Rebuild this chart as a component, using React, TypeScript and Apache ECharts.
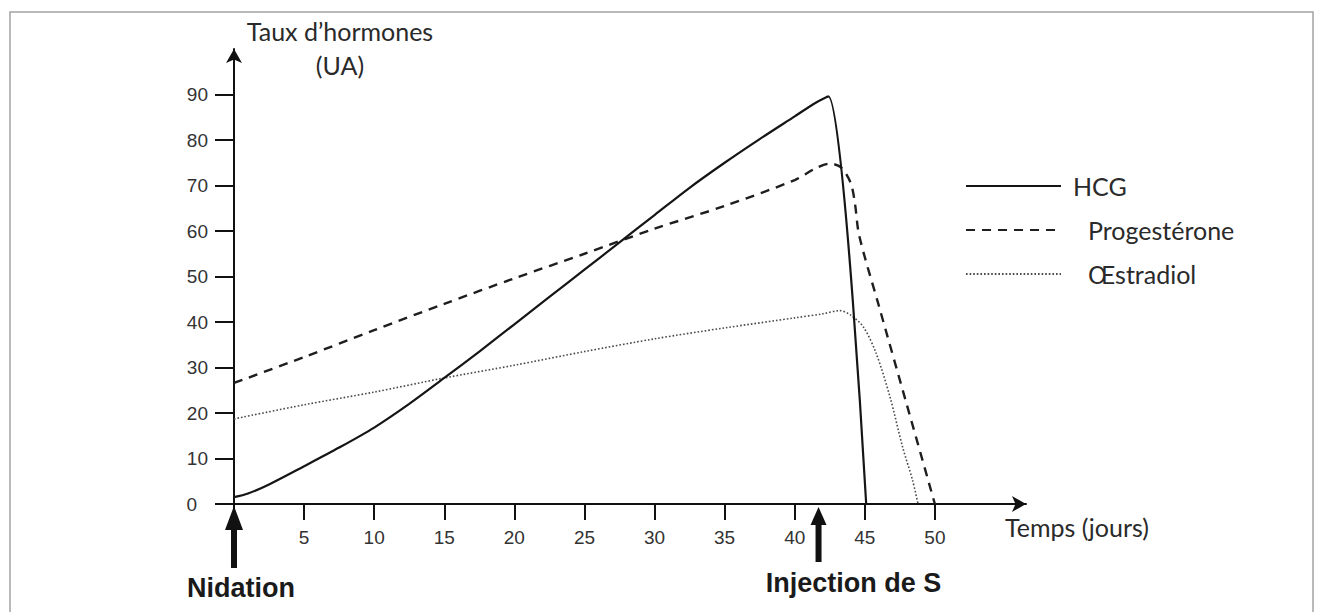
import React, { useEffect, useRef } from 'react';
import * as echarts from 'echarts';

// ---- Data ----
const hcgDays = [0, 1, 2.5, 5, 7.5, 10, 12.5, 15, 17.5, 20, 22.5, 25, 27.5, 30, 32.5, 35, 37.5, 40, 41.5, 42.4, 45.1];
const hcgValues = [1.5, 2.3, 4.3, 8.3, 12.4, 16.8, 22, 27.7, 33.5, 39.5, 45.5, 51.5, 57.5, 63.5, 69.5, 75, 80.2, 85.2, 88.2, 89.6, 0];

const progDays = [0, 5, 10, 15, 20, 25, 30, 35, 40, 41.5, 42.5, 43.3, 44, 44.3, 44.6, 46, 48, 50];
const progValues = [26.6, 32.3, 38.2, 44, 49.6, 55, 60.5, 65.5, 71.2, 73.8, 74.8, 74, 70.5, 66, 59, 43.6, 21.8, 0];

const estrDays = [0, 5, 10, 15, 20, 25, 30, 35, 40, 42, 43.2, 44, 44.9, 45.8, 46.8, 47.7, 48.4, 48.8];
const estrValues = [18.7, 21.8, 24.6, 27.7, 30.5, 33.5, 36.3, 38.7, 40.9, 41.8, 42.5, 41.5, 38.9, 33.2, 23.5, 12.5, 5.3, 0];

const seriesNames = ['HCG', 'Progestérone', 'Œstradiol'];
const xTickValues = [0, 5, 10, 15, 20, 25, 30, 35, 40, 45, 50];
const xLabelValues = [5, 10, 15, 20, 25, 30, 35, 40, 45, 50];
const yTickValues = [0, 10, 20, 30, 40, 50, 60, 70, 80, 90];

const yAxisTitle = 'Taux d’hormones\n(UA)';
const xAxisTitle = 'Temps (jours)';
const nidationDay = 0;
const injectionDay = 41.7;
const nidationLabel = 'Nidation';
const injectionLabel = 'Injection de S';

const pairs = (d: number[], v: number[]) => d.map((x, i) => [x, v[i]]);

export default function App() {
  const ref = useRef<HTMLDivElement>(null);

  useEffect(() => {
    if (!ref.current) return;
    const chart = echarts.init(ref.current, null, { renderer: 'svg' });
    const sansFont = 'Lato';
    const numFont = 'Liberation Sans';

    const option: any = {
      animation: false,
      backgroundColor: '#ffffff',
      grid: { left: 234, top: 49, width: 792, height: 455, containLabel: false, outerBoundsMode: 'none' },
      legend: {
        orient: 'vertical',
        left: 965,
        top: 173,
        padding: 0,
        itemWidth: 95,
        itemHeight: 14,
        itemGap: 18,
        itemStyle: { color: 'rgba(0,0,0,0)', borderColor: 'rgba(0,0,0,0)', borderWidth: 0 },
        textStyle: { fontFamily: sansFont, fontSize: 25, lineHeight: 26, color: '#2a2a2a' },
        data: [
          { name: seriesNames[0], textStyle: { padding: [0, 0, 0, 7] } },
          { name: seriesNames[1], textStyle: { padding: [0, 0, 0, 22] } },
          { name: seriesNames[2], textStyle: { padding: [0, 0, 0, 22] } },
        ],
      },
      xAxis: {
        type: 'value',
        min: 0,
        max: 56.5,
        name: xAxisTitle,
        nameLocation: 'end',
        nameGap: -21,
        nameTextStyle: {
          fontFamily: sansFont, fontSize: 25, color: '#2a2a2a',
          align: 'left', verticalAlign: 'top', padding: [10, 0, 0, 0],
        },
        axisLine: {
          show: true, onZero: true, symbol: ['none', 'arrow'], symbolSize: [12, 14],
          lineStyle: { color: '#111', width: 2 },
        },
        axisTick: {
          show: true, inside: false, length: 16, customValues: xTickValues,
          lineStyle: { color: '#111', width: 2 },
        },
        axisLabel: {
          customValues: xLabelValues, margin: 24,
          fontFamily: numFont, fontSize: 19, color: '#333',
        },
        splitLine: { show: false },
      },
      yAxis: {
        type: 'value',
        min: 0,
        max: 100,
        name: yAxisTitle,
        nameLocation: 'end',
        nameGap: 35,
        nameTextStyle: {
          fontFamily: sansFont, fontSize: 25, lineHeight: 34, color: '#2a2a2a',
          align: 'center', verticalAlign: 'top', padding: [0, 0, 0, 212],
        },
        axisLine: {
          show: true, onZero: true, symbol: ['none', 'arrow'], symbolSize: [12, 14],
          lineStyle: { color: '#111', width: 2 },
        },
        axisTick: {
          show: true, inside: false, length: 19, customValues: yTickValues,
          lineStyle: { color: '#111', width: 2 },
        },
        axisLabel: {
          customValues: yTickValues, margin: 26,
          fontFamily: numFont, fontSize: 19, color: '#333',
          formatter: (v: number) => (v === 0 ? '{z|0}' : String(v)),
          rich: { z: { padding: [0, 11, 0, 0], fontFamily: numFont, fontSize: 19, color: '#333' } },
        },
        splitLine: { show: false },
      },
      series: [
        {
          name: seriesNames[0], type: 'line', data: pairs(hcgDays, hcgValues),
          showSymbol: false, symbol: 'none', smooth: 0.3,
          lineStyle: { color: '#151515', width: 2.2, type: 'solid' },
          itemStyle: { color: '#151515' }, z: 3,
        },
        {
          name: seriesNames[1], type: 'line', data: pairs(progDays, progValues),
          showSymbol: false, symbol: 'none', smooth: 0.3,
          lineStyle: { color: '#1e1e1e', width: 2.4, type: [9, 7] },
          itemStyle: { color: '#1e1e1e' }, z: 2,
        },
        {
          name: seriesNames[2], type: 'line', data: pairs(estrDays, estrValues),
          showSymbol: false, symbol: 'none', smooth: 0.3,
          lineStyle: { color: '#4a4a4a', width: 1.6, type: [1.6, 2] },
          itemStyle: { color: '#4a4a4a' }, z: 2,
        },
      ],
    };
    chart.setOption(option);

    const [nx, ny] = chart.convertToPixel({ gridIndex: 0 }, [nidationDay, 0]) as number[];
    const [ix, iy] = chart.convertToPixel({ gridIndex: 0 }, [injectionDay, 0]) as number[];

    const arrow = (x: number, tipY: number, headLen: number, headW: number, bottomY: number) => [
      {
        type: 'polygon', silent: true, z: 20,
        shape: { points: [[x - headW / 2, tipY + headLen], [x, tipY], [x + headW / 2, tipY + headLen]] },
        style: { fill: '#111' },
      },
      {
        type: 'rect', silent: true, z: 20,
        shape: { x: x - 3, y: tipY + headLen - 1, width: 6, height: bottomY - (tipY + headLen - 1) },
        style: { fill: '#111' },
      },
    ];

    const boldFont = 'bold 27px "Liberation Sans", Arial, sans-serif';

    chart.setOption({
      graphic: [
        {
          type: 'rect', silent: true, z: -10,
          shape: { x: 10, y: 12, width: 1303, height: 640 },
          style: { fill: 'none', stroke: '#a3a3a3', lineWidth: 1.5 },
        },
        ...arrow(nx, ny + 2, 24, 18, ny + 64),
        ...arrow(ix, iy + 3, 18, 16, iy + 58),
        {
          type: 'text', silent: true, z: 20, x: nx + 7, y: ny + 84,
          style: {
            text: nidationLabel, font: boldFont, fill: '#1a1a1a',
            align: 'center', verticalAlign: 'middle', textAlign: 'center', textVerticalAlign: 'middle',
          },
        },
        {
          type: 'text', silent: true, z: 20, x: ix + 35, y: iy + 79,
          style: {
            text: injectionLabel, font: boldFont, fill: '#1a1a1a',
            align: 'center', verticalAlign: 'middle', textAlign: 'center', textVerticalAlign: 'middle',
          },
        },
      ],
    });

    return () => {
      chart.dispose();
    };
  }, []);

  return (
    <div
      ref={ref}
      style={{ position: 'fixed', left: 0, top: 0, width: 1320, height: 612, background: '#fff' }}
    />
  );
}
